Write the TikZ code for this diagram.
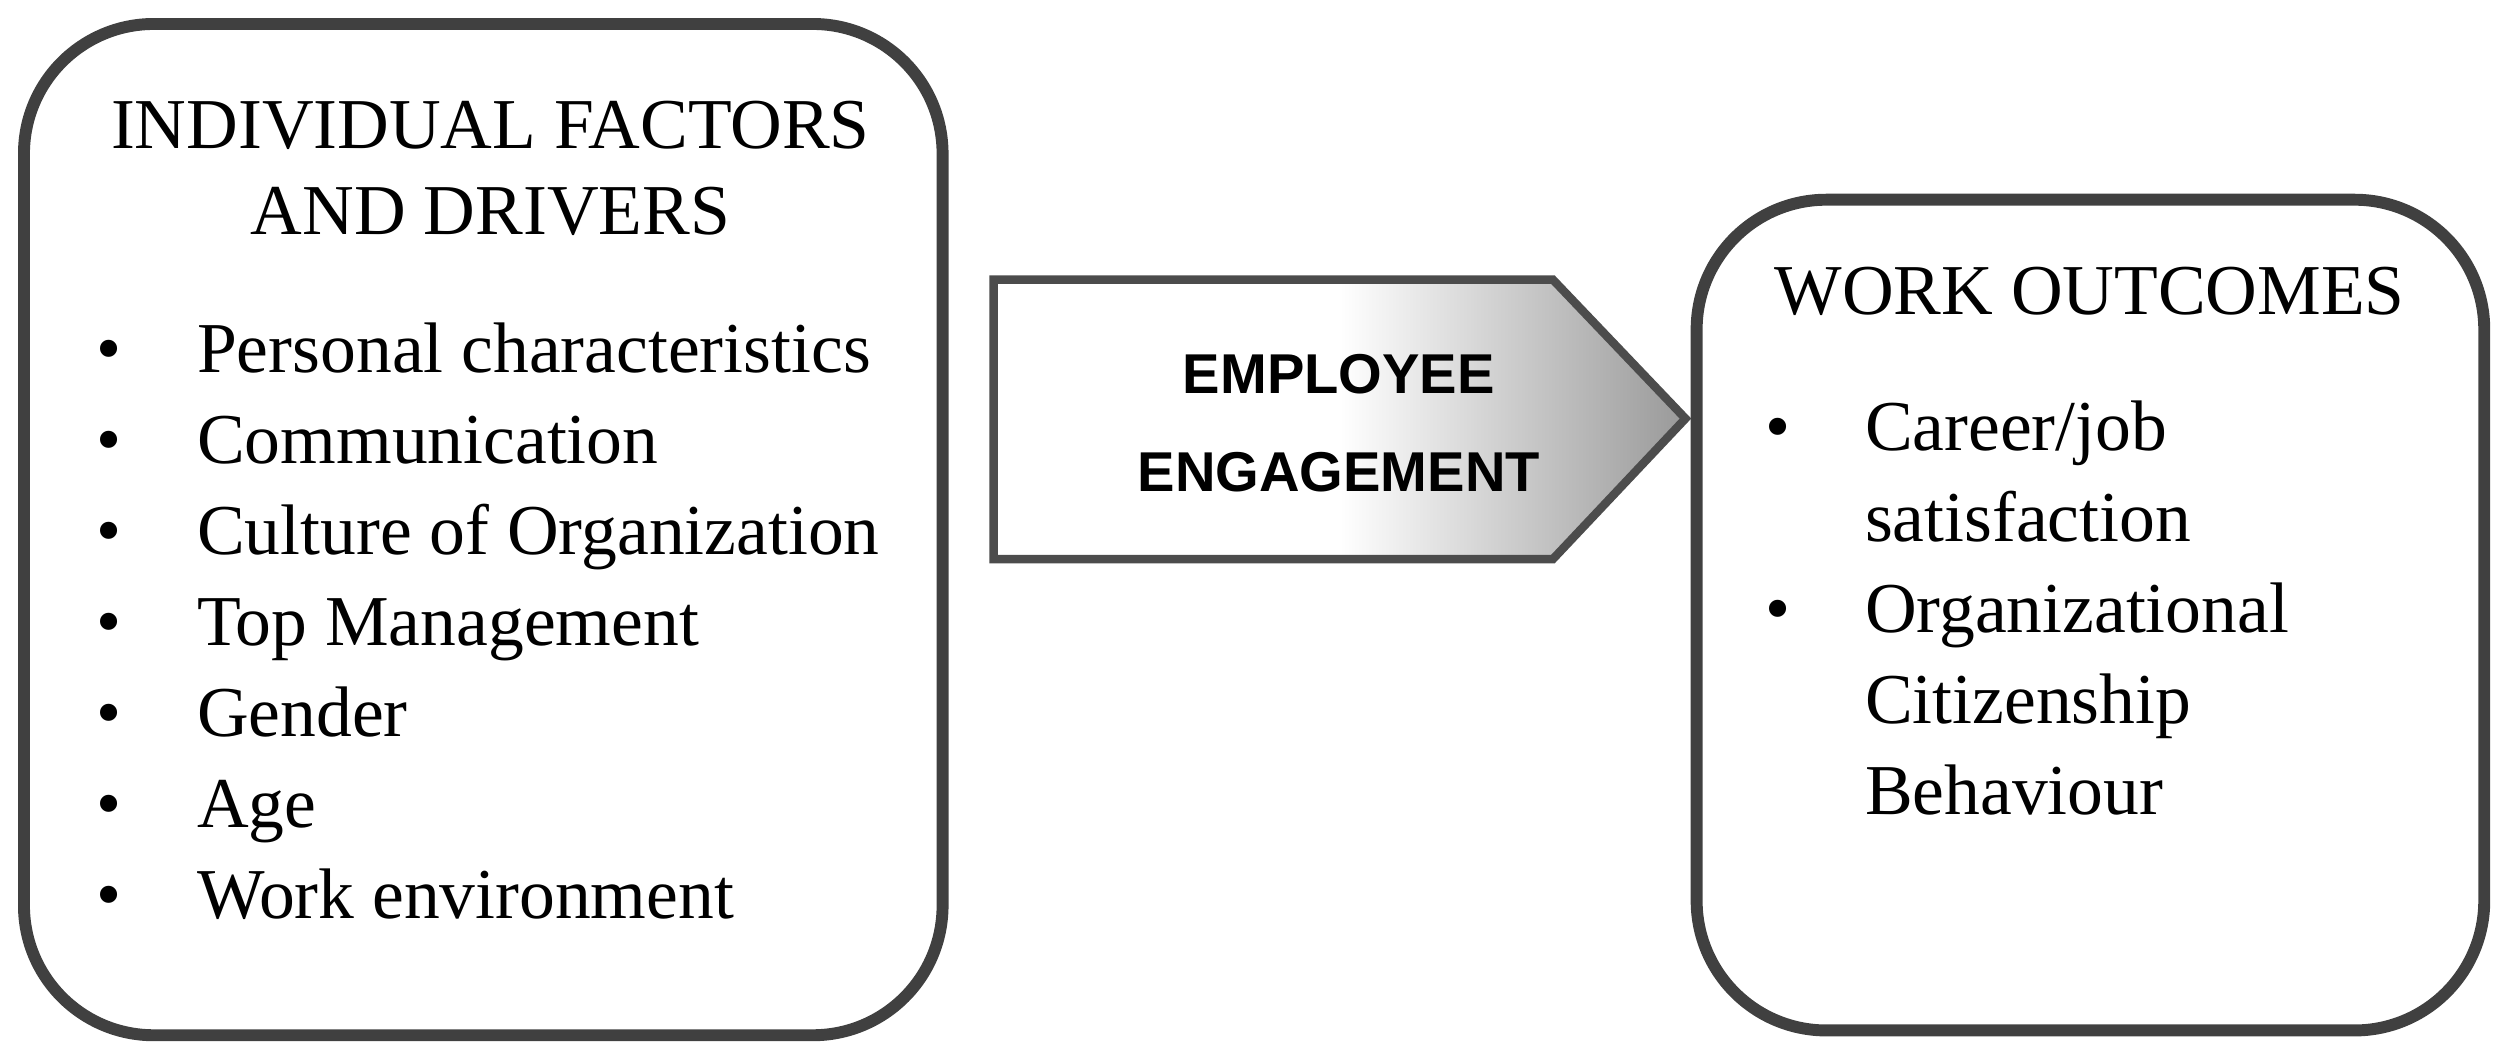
\documentclass[tikz,border=0pt]{standalone}
\usepackage{fontspec}
\setmainfont{Liberation Serif}
\newfontfamily\sansf{Liberation Sans}
\usetikzlibrary{shadings}
\begin{document}
\begin{tikzpicture}[x=0.016cm,y=-0.016cm,
  box/.style={draw=black!75,line width=3.4pt,rounded corners=1.3cm},
  txt/.style={font=\fontsize{20.4}{24}\selectfont,anchor=base west,inner sep=0},
  bul/.style={font=\fontsize{20.4}{24}\selectfont,anchor=base,inner sep=0}]
\useasboundingbox (0,0) rectangle (1568,662);
\draw[box] (15,15) rectangle (590,648);
\draw[box] (1062,125) rectangle (1555,645);
\shade[left color=white,right color=black!40,middle color=white,shading angle=90]
  (622,175) -- (972,175) -- (1055,262) -- (972,350) -- (622,350) -- cycle;
\draw[black!70,line width=2.4pt] (622,175) -- (972,175) -- (1055,262) -- (972,350) -- (622,350) -- cycle;
\node[font=\sansf\bfseries\fontsize{16}{28}\selectfont,align=center] (ee) at (838,265) {EMPLOYEE\\ENGAGEMENT};
\node[bul] (t1) at (307,93) {INDIVIDUAL FACTORS};
\node[bul] (t2) at (307,147) {AND DRIVERS};
\foreach \i/\t in {0/Personal characteristics,1/Communication,2/Culture of Organization,3/Top Management,4/Gender,5/Age,6/Work environment}{
  \node[bul] (b\i) at (68,233+57*\i) {•};
  \node[txt] (l\i) at (123,233+57*\i) {\t};
}
\node[bul] (t3) at (1308,197) {WORK OUTCOMES};
\node[bul] (rb1) at (1113,282) {•};
\node[txt] (r1) at (1167,282) {Career/job};
\node[txt] (r2) at (1167,339) {satisfaction};
\node[bul] (rb2) at (1113,396) {•};
\node[txt] (r3) at (1167,396) {Organizational};
\node[txt] (r4) at (1167,453) {Citizenship};
\node[txt] (r5) at (1167,510) {Behaviour};
\end{tikzpicture}
\end{document}
